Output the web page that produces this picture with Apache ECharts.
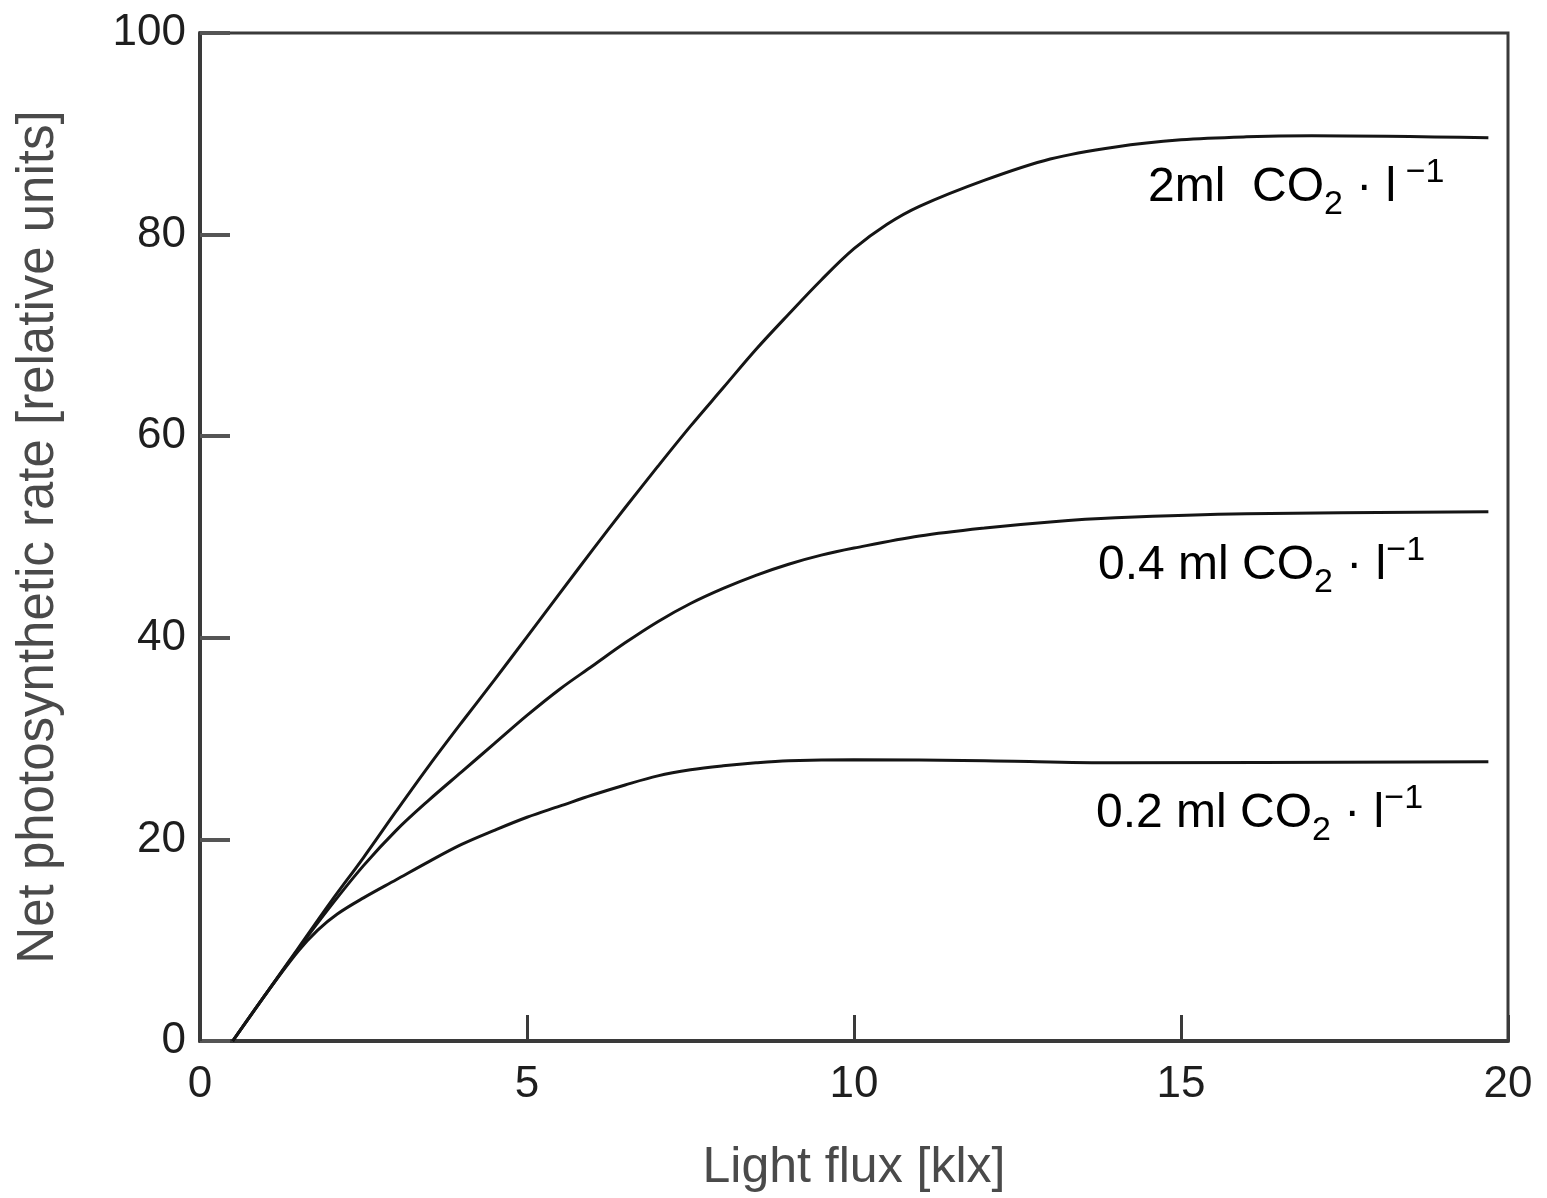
<!DOCTYPE html>
<html>
<head>
<meta charset="utf-8">
<script src="https://cdn.jsdelivr.net/npm/echarts@6/dist/echarts.min.js"></script>
<style>
html,body{margin:0;padding:0;background:#fff;}
#chart{width:1547px;height:1198px;}
</style>
</head>
<body>
<div id="chart"></div>
<script>
// Light flux [klx] -> net photosynthetic rate [relative units]
var x2ml = [0.5, 1, 1.5, 2, 2.5, 3, 3.5, 4, 4.5, 5, 5.5, 6, 6.5, 7, 7.5, 8, 8.5, 9, 9.5, 10, 10.5, 11, 12, 13, 14, 15, 16, 17, 19.7];
var y2ml = [0, 4.6, 9.2, 13.8, 18.2, 22.8, 27.3, 31.6, 35.8, 40.1, 44.4, 48.7, 52.9, 57.0, 61.0, 64.8, 68.6, 72.1, 75.5, 78.6, 81.0, 82.8, 85.4, 87.5, 88.7, 89.4, 89.7, 89.8, 89.6];

var x04ml = [0.5, 1, 1.5, 2, 2.5, 3, 3.5, 4, 4.5, 5, 5.5, 6, 6.5, 7, 7.5, 8, 8.5, 9, 9.5, 10, 11, 12, 13, 14, 16, 19.7];
var y04ml = [0, 4.6, 9.1, 13.4, 17.4, 20.9, 23.9, 26.7, 29.5, 32.3, 34.9, 37.2, 39.5, 41.6, 43.4, 44.9, 46.2, 47.3, 48.2, 48.9, 50.1, 50.9, 51.5, 51.9, 52.3, 52.5];

var x02ml = [0.5, 1, 1.5, 1.8, 2.1, 2.5, 3, 3.5, 4, 4.5, 5, 5.5, 6, 6.5, 7, 7.5, 8, 8.5, 9, 10, 12, 14, 19.7];
var y02ml = [0, 4.6, 8.9, 11.0, 12.6, 14.2, 16.0, 17.8, 19.5, 20.9, 22.2, 23.3, 24.4, 25.4, 26.3, 26.9, 27.3, 27.6, 27.8, 27.9, 27.8, 27.6, 27.7];

var xTicks = [0, 5, 10, 15, 20];
var yTicks = [0, 20, 40, 60, 80, 100];

function pairs(xs, ys) { return xs.map(function (x, i) { return [x, ys[i]]; }); }

var chart = echarts.init(document.getElementById('chart'), null, {renderer: 'canvas'});
var font = '"Liberation Sans", Arial, sans-serif';
var lineStyle = {color: '#151515', width: 3};

var rich = {
  a: {fontFamily: font, fontSize: 48, color: '#1a1a1a', lineHeight: 72, verticalAlign: 'middle'},
  s: {fontFamily: font, fontSize: 34, color: '#1a1a1a', lineHeight: 72, verticalAlign: 'bottom', padding: [0, 0, 2, 0]},
  p: {fontFamily: font, fontSize: 34, color: '#1a1a1a', lineHeight: 72, verticalAlign: 'top', padding: [4, 0, 0, 0]}
};

chart.setOption({
  backgroundColor: '#ffffff',
  animation: false,
  grid: {left: 200, right: 39, top: 33, bottom: 156, show: true, borderColor: '#3a3a3a', borderWidth: 3, backgroundColor: 'transparent'},
  xAxis: {
    type: 'value', min: xTicks[0], max: xTicks[xTicks.length - 1], interval: 5,
    axisLine: {show: true, lineStyle: {color: '#3a3a3a', width: 4}},
    axisTick: {show: true, inside: true, length: 26, lineStyle: {color: '#3a3a3a', width: 3}},
    splitLine: {show: false},
    axisLabel: {fontFamily: font, fontSize: 44, color: '#1e1e1e', margin: 22},
    name: 'Light flux [klx]', nameLocation: 'middle', nameGap: 102,
    nameTextStyle: {fontFamily: font, fontSize: 50, color: '#4a4a4a'}
  },
  yAxis: {
    type: 'value', min: yTicks[0], max: yTicks[yTicks.length - 1], interval: 20,
    axisLine: {show: true, lineStyle: {color: '#3a3a3a', width: 4}},
    axisTick: {show: true, inside: true, length: 30, lineStyle: {color: '#555', width: 4}},
    splitLine: {show: false},
    axisLabel: {fontFamily: font, fontSize: 44, color: '#1e1e1e', margin: 14},
    name: 'Net photosynthetic rate [relative units]', nameLocation: 'middle', nameGap: 136, nameRotate: 90,
    nameTextStyle: {fontFamily: font, fontSize: 51, color: '#4a4a4a'}
  },
  series: [
    {name: '2 ml', type: 'line', data: pairs(x2ml, y2ml), smooth: 0.35, showSymbol: false, lineStyle: lineStyle},
    {name: '0.4 ml', type: 'line', data: pairs(x04ml, y04ml), smooth: 0.35, showSymbol: false, lineStyle: lineStyle},
    {name: '0.2 ml', type: 'line', data: pairs(x02ml, y02ml), smooth: 0.35, showSymbol: false, lineStyle: lineStyle}
  ],
  graphic: [
    {type: 'text', left: 1148, top: 152, style: {text: '{a|2ml  CO}{s|2}{a| · l}{p| −1}', rich: rich}},
    {type: 'text', left: 1098, top: 530, style: {text: '{a|0.4 ml CO}{s|2}{a| · l}{p|−1}', rich: rich}},
    {type: 'text', left: 1096, top: 778, style: {text: '{a|0.2 ml CO}{s|2}{a| · l}{p|−1}', rich: rich}}
  ]
});
</script>
</body>
</html>
